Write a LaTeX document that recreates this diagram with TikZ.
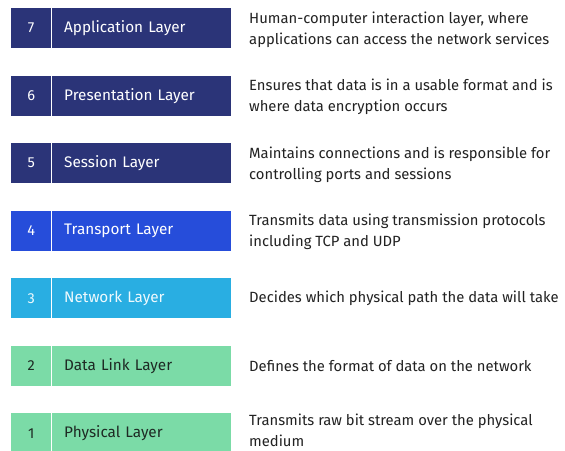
\documentclass[tikz,border=0pt]{standalone}
\usepackage{fontspec}
\setmainfont{Fira Sans}
\definecolor{navy}{HTML}{2B3478}
\definecolor{tblue}{HTML}{264DDA}
\definecolor{ncyan}{HTML}{29AEE2}
\definecolor{mint}{HTML}{7BDBA7}
\definecolor{darktxt}{HTML}{1E2A24}
\definecolor{desctxt}{HTML}{222222}
\begin{document}
\begin{tikzpicture}[x=1pt,y=-1pt,
  numcell/.style={draw=none,minimum width=40pt,minimum height=40pt,inner sep=0pt,anchor=north west,font=\fontsize{14.5}{16}\selectfont},
  labcell/.style={draw=none,minimum width=179pt,minimum height=40pt,inner sep=0pt,anchor=north west,text width=155pt,align=left,font=\fontsize{15.3}{17}\selectfont},
  desc/.style={anchor=west,inner sep=0pt,align=left,text=desctxt,font=\fontsize{14.8}{21}\selectfont}]
\useasboundingbox (0,0) rectangle (565,450);
\fill[white] (0,0) rectangle (565,450);
% layer 7
\node[numcell,fill=navy,text=white] (n7) at (11,8) {7};
\node[labcell,fill=navy,text=white] (l7) at (52,8) {Application Layer};
\node[desc] (d7) at (249,29.5) {Human-computer interaction layer, where\\applications can access the network services};
% layer 6
\node[numcell,fill=navy,text=white] (n6) at (11,75.5) {6};
\node[labcell,fill=navy,text=white] (l6) at (52,75.5) {Presentation Layer};
\node[desc] (d6) at (249,97) {Ensures that data is in a usable format and is\\where data encryption occurs};
% layer 5
\node[numcell,fill=navy,text=white] (n5) at (11,143) {5};
\node[labcell,fill=navy,text=white] (l5) at (52,143) {Session Layer};
\node[desc] (d5) at (249,164.5) {Maintains connections and is responsible for\\controlling ports and sessions};
% layer 4
\node[numcell,fill=tblue,text=white] (n4) at (11,210.5) {4};
\node[labcell,fill=tblue,text=white] (l4) at (52,210.5) {Transport Layer};
\node[desc] (d4) at (249,232) {Transmits data using transmission protocols\\including TCP and UDP};
% layer 3
\node[numcell,fill=ncyan,text=white!92!ncyan] (n3) at (11,278) {3};
\node[labcell,fill=ncyan,text=white!92!ncyan] (l3) at (52,278) {Network Layer};
\node[desc] (d3) at (249,298) {Decides which physical path the data will take};
% layer 2
\node[numcell,fill=mint,text=darktxt] (n2) at (11,345.5) {2};
\node[labcell,fill=mint,text=darktxt] (l2) at (52,345.5) {Data Link Layer};
\node[desc] (d2) at (249,366) {Defines the format of data on the network};
% layer 1
\node[numcell,fill=mint,text=darktxt] (n1) at (11,413) {1};
\node[labcell,fill=mint,text=darktxt] (l1) at (52,413) {Physical Layer};
\node[desc] (d1) at (249,430.5) {Transmits raw bit stream over the physical\\medium};
\end{tikzpicture}
\end{document}
